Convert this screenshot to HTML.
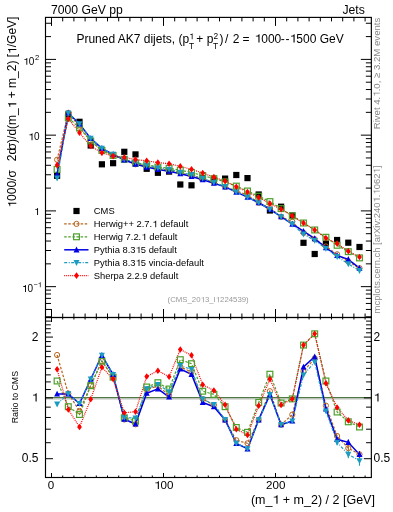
<!DOCTYPE html>
<html><head><meta charset="utf-8"><style>html,body{margin:0;padding:0;background:#fff;width:393px;height:512px;overflow:hidden}</style></head><body><svg width="393" height="512" viewBox="0 0 393 512" style="display:block;will-change:transform;font-family:'Liberation Sans', sans-serif">
<rect width="393" height="512" fill="#fff"/>
<defs><clipPath id="cu"><rect x="45.5" y="17.4" width="325.85" height="300.1"/></clipPath><clipPath id="cr"><rect x="45.5" y="317.5" width="325.85" height="160.0"/></clipPath></defs>
<g clip-path="url(#cu)">
<rect x="54.00" y="172.70" width="6.2" height="6.2" fill="#000"/>
<rect x="65.20" y="111.40" width="6.2" height="6.2" fill="#000"/>
<rect x="76.40" y="118.70" width="6.2" height="6.2" fill="#000"/>
<rect x="87.60" y="142.40" width="6.2" height="6.2" fill="#000"/>
<rect x="98.80" y="161.20" width="6.2" height="6.2" fill="#000"/>
<rect x="110.00" y="160.10" width="6.2" height="6.2" fill="#000"/>
<rect x="121.20" y="148.70" width="6.2" height="6.2" fill="#000"/>
<rect x="132.40" y="151.30" width="6.2" height="6.2" fill="#000"/>
<rect x="143.60" y="165.70" width="6.2" height="6.2" fill="#000"/>
<rect x="154.80" y="169.70" width="6.2" height="6.2" fill="#000"/>
<rect x="166.00" y="168.50" width="6.2" height="6.2" fill="#000"/>
<rect x="177.20" y="181.40" width="6.2" height="6.2" fill="#000"/>
<rect x="188.40" y="182.20" width="6.2" height="6.2" fill="#000"/>
<rect x="199.60" y="174.90" width="6.2" height="6.2" fill="#000"/>
<rect x="210.80" y="176.80" width="6.2" height="6.2" fill="#000"/>
<rect x="222.00" y="175.50" width="6.2" height="6.2" fill="#000"/>
<rect x="233.20" y="171.90" width="6.2" height="6.2" fill="#000"/>
<rect x="244.40" y="175.00" width="6.2" height="6.2" fill="#000"/>
<rect x="255.60" y="191.40" width="6.2" height="6.2" fill="#000"/>
<rect x="266.80" y="207.40" width="6.2" height="6.2" fill="#000"/>
<rect x="278.00" y="203.60" width="6.2" height="6.2" fill="#000"/>
<rect x="289.20" y="212.40" width="6.2" height="6.2" fill="#000"/>
<rect x="300.40" y="239.70" width="6.2" height="6.2" fill="#000"/>
<rect x="311.60" y="250.90" width="6.2" height="6.2" fill="#000"/>
<rect x="322.80" y="240.50" width="6.2" height="6.2" fill="#000"/>
<rect x="334.00" y="236.90" width="6.2" height="6.2" fill="#000"/>
<rect x="345.20" y="239.60" width="6.2" height="6.2" fill="#000"/>
<rect x="356.40" y="243.90" width="6.2" height="6.2" fill="#000"/>
<polyline points="57.10,159.71 68.30,112.85 79.50,126.71 90.70,140.85 101.90,150.54 113.10,155.36 124.30,159.90 135.50,164.30 146.70,165.65 157.90,168.34 169.10,170.62 180.30,172.91 191.50,175.59 202.70,178.45 213.90,182.56 225.10,186.89 236.30,190.86 247.50,195.12 258.70,202.75 269.90,207.99 281.10,216.75 292.30,221.76 303.50,232.86 314.70,239.19 325.90,246.49 337.10,254.29 348.30,261.52 359.50,268.19" fill="none" stroke="#b5651d" stroke-width="1.2" stroke-dasharray="2.5,1.6"/>
<polyline points="57.10,169.46 68.30,117.80 79.50,128.03 90.70,140.93 101.90,150.46 113.10,155.44 124.30,159.26 135.50,163.06 146.70,164.71 157.90,167.10 169.10,168.26 180.30,170.18 191.50,172.48 202.70,175.49 213.90,178.59 225.10,181.90 236.30,186.10 247.50,191.00 258.70,196.19 269.90,201.61 281.10,208.61 292.30,215.88 303.50,223.00 314.70,229.96 325.90,237.26 337.10,245.29 348.30,251.66 359.50,257.91" fill="none" stroke="#4ca02c" stroke-width="1.2" stroke-dasharray="2.5,1.6"/>
<polyline points="57.10,174.34 68.30,113.00 79.50,123.90 90.70,138.49 101.90,148.33 113.10,154.43 124.30,159.79 135.50,164.19 146.70,167.04 157.90,169.39 169.10,171.26 180.30,173.66 191.50,176.45 202.70,179.69 213.90,183.20 225.10,186.89 236.30,192.10 247.50,197.19 258.70,202.75 269.90,209.26 281.10,216.75 292.30,224.16 303.50,231.21 314.70,238.59 325.90,247.76 337.10,255.53 348.30,259.35 359.50,268.19" fill="none" stroke="#0000e6" stroke-width="1.5" />
<polyline points="57.10,178.13 68.30,113.00 79.50,123.90 90.70,138.41 101.90,148.33 113.10,154.43 124.30,159.15 135.50,161.98 146.70,165.39 157.90,167.78 169.10,169.31 180.30,172.39 191.50,174.65 202.70,178.45 213.90,182.38 225.10,186.70 236.30,192.03 247.50,197.19 258.70,202.75 269.90,209.26 281.10,216.75 292.30,224.16 303.50,234.21 314.70,240.54 325.90,248.51 337.10,256.65 348.30,263.89 359.50,270.59" fill="none" stroke="#1a9cc2" stroke-width="1.2" stroke-dasharray="3,1.5,1,1.5"/>
<polyline points="57.10,165.08 68.30,118.85 79.50,132.71 90.70,146.03 101.90,152.83 113.10,156.11 124.30,157.39 135.50,159.58 146.70,160.78 157.90,162.60 169.10,163.69 180.30,166.35 191.50,169.33 202.70,173.05 213.90,177.12 225.10,181.15 236.30,186.74 247.50,192.01 258.70,197.46 269.90,203.45 281.10,209.32 292.30,215.88 303.50,223.00 314.70,229.96 325.90,238.12 337.10,243.60 348.30,251.14 359.50,257.05" fill="none" stroke="#ff0000" stroke-width="1.2" stroke-dasharray="1,1"/>
<circle cx="57.10" cy="159.71" r="2.6" fill="none" stroke="#b5651d" stroke-width="1.0"/>
<circle cx="68.30" cy="112.85" r="2.6" fill="none" stroke="#b5651d" stroke-width="1.0"/>
<circle cx="79.50" cy="126.71" r="2.6" fill="none" stroke="#b5651d" stroke-width="1.0"/>
<circle cx="90.70" cy="140.85" r="2.6" fill="none" stroke="#b5651d" stroke-width="1.0"/>
<circle cx="101.90" cy="150.54" r="2.6" fill="none" stroke="#b5651d" stroke-width="1.0"/>
<circle cx="113.10" cy="155.36" r="2.6" fill="none" stroke="#b5651d" stroke-width="1.0"/>
<circle cx="124.30" cy="159.90" r="2.6" fill="none" stroke="#b5651d" stroke-width="1.0"/>
<circle cx="135.50" cy="164.30" r="2.6" fill="none" stroke="#b5651d" stroke-width="1.0"/>
<circle cx="146.70" cy="165.65" r="2.6" fill="none" stroke="#b5651d" stroke-width="1.0"/>
<circle cx="157.90" cy="168.34" r="2.6" fill="none" stroke="#b5651d" stroke-width="1.0"/>
<circle cx="169.10" cy="170.62" r="2.6" fill="none" stroke="#b5651d" stroke-width="1.0"/>
<circle cx="180.30" cy="172.91" r="2.6" fill="none" stroke="#b5651d" stroke-width="1.0"/>
<circle cx="191.50" cy="175.59" r="2.6" fill="none" stroke="#b5651d" stroke-width="1.0"/>
<circle cx="202.70" cy="178.45" r="2.6" fill="none" stroke="#b5651d" stroke-width="1.0"/>
<circle cx="213.90" cy="182.56" r="2.6" fill="none" stroke="#b5651d" stroke-width="1.0"/>
<circle cx="225.10" cy="186.89" r="2.6" fill="none" stroke="#b5651d" stroke-width="1.0"/>
<circle cx="236.30" cy="190.86" r="2.6" fill="none" stroke="#b5651d" stroke-width="1.0"/>
<circle cx="247.50" cy="195.12" r="2.6" fill="none" stroke="#b5651d" stroke-width="1.0"/>
<circle cx="258.70" cy="202.75" r="2.6" fill="none" stroke="#b5651d" stroke-width="1.0"/>
<circle cx="269.90" cy="207.99" r="2.6" fill="none" stroke="#b5651d" stroke-width="1.0"/>
<circle cx="281.10" cy="216.75" r="2.6" fill="none" stroke="#b5651d" stroke-width="1.0"/>
<circle cx="292.30" cy="221.76" r="2.6" fill="none" stroke="#b5651d" stroke-width="1.0"/>
<circle cx="303.50" cy="232.86" r="2.6" fill="none" stroke="#b5651d" stroke-width="1.0"/>
<circle cx="314.70" cy="239.19" r="2.6" fill="none" stroke="#b5651d" stroke-width="1.0"/>
<circle cx="325.90" cy="246.49" r="2.6" fill="none" stroke="#b5651d" stroke-width="1.0"/>
<circle cx="337.10" cy="254.29" r="2.6" fill="none" stroke="#b5651d" stroke-width="1.0"/>
<circle cx="348.30" cy="261.52" r="2.6" fill="none" stroke="#b5651d" stroke-width="1.0"/>
<circle cx="359.50" cy="268.19" r="2.6" fill="none" stroke="#b5651d" stroke-width="1.0"/>
<rect x="54.20" y="166.56" width="5.8" height="5.8" fill="none" stroke="#4ca02c" stroke-width="1.2"/>
<rect x="65.40" y="114.90" width="5.8" height="5.8" fill="none" stroke="#4ca02c" stroke-width="1.2"/>
<rect x="76.60" y="125.12" width="5.8" height="5.8" fill="none" stroke="#4ca02c" stroke-width="1.2"/>
<rect x="87.80" y="138.03" width="5.8" height="5.8" fill="none" stroke="#4ca02c" stroke-width="1.2"/>
<rect x="99.00" y="147.56" width="5.8" height="5.8" fill="none" stroke="#4ca02c" stroke-width="1.2"/>
<rect x="110.20" y="152.54" width="5.8" height="5.8" fill="none" stroke="#4ca02c" stroke-width="1.2"/>
<rect x="121.40" y="156.36" width="5.8" height="5.8" fill="none" stroke="#4ca02c" stroke-width="1.2"/>
<rect x="132.60" y="160.16" width="5.8" height="5.8" fill="none" stroke="#4ca02c" stroke-width="1.2"/>
<rect x="143.80" y="161.81" width="5.8" height="5.8" fill="none" stroke="#4ca02c" stroke-width="1.2"/>
<rect x="155.00" y="164.20" width="5.8" height="5.8" fill="none" stroke="#4ca02c" stroke-width="1.2"/>
<rect x="166.20" y="165.36" width="5.8" height="5.8" fill="none" stroke="#4ca02c" stroke-width="1.2"/>
<rect x="177.40" y="167.28" width="5.8" height="5.8" fill="none" stroke="#4ca02c" stroke-width="1.2"/>
<rect x="188.60" y="169.58" width="5.8" height="5.8" fill="none" stroke="#4ca02c" stroke-width="1.2"/>
<rect x="199.80" y="172.59" width="5.8" height="5.8" fill="none" stroke="#4ca02c" stroke-width="1.2"/>
<rect x="211.00" y="175.69" width="5.8" height="5.8" fill="none" stroke="#4ca02c" stroke-width="1.2"/>
<rect x="222.20" y="179.00" width="5.8" height="5.8" fill="none" stroke="#4ca02c" stroke-width="1.2"/>
<rect x="233.40" y="183.20" width="5.8" height="5.8" fill="none" stroke="#4ca02c" stroke-width="1.2"/>
<rect x="244.60" y="188.10" width="5.8" height="5.8" fill="none" stroke="#4ca02c" stroke-width="1.2"/>
<rect x="255.80" y="193.29" width="5.8" height="5.8" fill="none" stroke="#4ca02c" stroke-width="1.2"/>
<rect x="267.00" y="198.71" width="5.8" height="5.8" fill="none" stroke="#4ca02c" stroke-width="1.2"/>
<rect x="278.20" y="205.71" width="5.8" height="5.8" fill="none" stroke="#4ca02c" stroke-width="1.2"/>
<rect x="289.40" y="212.97" width="5.8" height="5.8" fill="none" stroke="#4ca02c" stroke-width="1.2"/>
<rect x="300.60" y="220.10" width="5.8" height="5.8" fill="none" stroke="#4ca02c" stroke-width="1.2"/>
<rect x="311.80" y="227.06" width="5.8" height="5.8" fill="none" stroke="#4ca02c" stroke-width="1.2"/>
<rect x="323.00" y="234.36" width="5.8" height="5.8" fill="none" stroke="#4ca02c" stroke-width="1.2"/>
<rect x="334.20" y="242.39" width="5.8" height="5.8" fill="none" stroke="#4ca02c" stroke-width="1.2"/>
<rect x="345.40" y="248.76" width="5.8" height="5.8" fill="none" stroke="#4ca02c" stroke-width="1.2"/>
<rect x="356.60" y="255.01" width="5.8" height="5.8" fill="none" stroke="#4ca02c" stroke-width="1.2"/>
<path d="M57.10,171.04 L60.10,176.94 L54.10,176.94Z" fill="#0000e6"/>
<path d="M68.30,109.70 L71.30,115.60 L65.30,115.60Z" fill="#0000e6"/>
<path d="M79.50,120.60 L82.50,126.50 L76.50,126.50Z" fill="#0000e6"/>
<path d="M90.70,135.19 L93.70,141.09 L87.70,141.09Z" fill="#0000e6"/>
<path d="M101.90,145.03 L104.90,150.93 L98.90,150.93Z" fill="#0000e6"/>
<path d="M113.10,151.12 L116.10,157.03 L110.10,157.03Z" fill="#0000e6"/>
<path d="M124.30,156.49 L127.30,162.39 L121.30,162.39Z" fill="#0000e6"/>
<path d="M135.50,160.89 L138.50,166.79 L132.50,166.79Z" fill="#0000e6"/>
<path d="M146.70,163.74 L149.70,169.64 L143.70,169.64Z" fill="#0000e6"/>
<path d="M157.90,166.09 L160.90,171.99 L154.90,171.99Z" fill="#0000e6"/>
<path d="M169.10,167.96 L172.10,173.86 L166.10,173.86Z" fill="#0000e6"/>
<path d="M180.30,170.36 L183.30,176.26 L177.30,176.26Z" fill="#0000e6"/>
<path d="M191.50,173.15 L194.50,179.05 L188.50,179.05Z" fill="#0000e6"/>
<path d="M202.70,176.39 L205.70,182.29 L199.70,182.29Z" fill="#0000e6"/>
<path d="M213.90,179.90 L216.90,185.80 L210.90,185.80Z" fill="#0000e6"/>
<path d="M225.10,183.59 L228.10,189.49 L222.10,189.49Z" fill="#0000e6"/>
<path d="M236.30,188.80 L239.30,194.70 L233.30,194.70Z" fill="#0000e6"/>
<path d="M247.50,193.89 L250.50,199.79 L244.50,199.79Z" fill="#0000e6"/>
<path d="M258.70,199.45 L261.70,205.35 L255.70,205.35Z" fill="#0000e6"/>
<path d="M269.90,205.96 L272.90,211.86 L266.90,211.86Z" fill="#0000e6"/>
<path d="M281.10,213.45 L284.10,219.35 L278.10,219.35Z" fill="#0000e6"/>
<path d="M292.30,220.86 L295.30,226.76 L289.30,226.76Z" fill="#0000e6"/>
<path d="M303.50,227.91 L306.50,233.81 L300.50,233.81Z" fill="#0000e6"/>
<path d="M314.70,235.29 L317.70,241.19 L311.70,241.19Z" fill="#0000e6"/>
<path d="M325.90,244.46 L328.90,250.36 L322.90,250.36Z" fill="#0000e6"/>
<path d="M337.10,252.22 L340.10,258.12 L334.10,258.12Z" fill="#0000e6"/>
<path d="M348.30,256.05 L351.30,261.95 L345.30,261.95Z" fill="#0000e6"/>
<path d="M359.50,264.89 L362.50,270.79 L356.50,270.79Z" fill="#0000e6"/>
<path d="M57.10,181.43 L60.10,175.53 L54.10,175.53Z" fill="#1a9cc2"/>
<path d="M68.30,116.30 L71.30,110.40 L65.30,110.40Z" fill="#1a9cc2"/>
<path d="M79.50,127.20 L82.50,121.30 L76.50,121.30Z" fill="#1a9cc2"/>
<path d="M90.70,141.71 L93.70,135.81 L87.70,135.81Z" fill="#1a9cc2"/>
<path d="M101.90,151.63 L104.90,145.73 L98.90,145.73Z" fill="#1a9cc2"/>
<path d="M113.10,157.73 L116.10,151.83 L110.10,151.83Z" fill="#1a9cc2"/>
<path d="M124.30,162.45 L127.30,156.55 L121.30,156.55Z" fill="#1a9cc2"/>
<path d="M135.50,165.28 L138.50,159.38 L132.50,159.38Z" fill="#1a9cc2"/>
<path d="M146.70,168.69 L149.70,162.79 L143.70,162.79Z" fill="#1a9cc2"/>
<path d="M157.90,171.08 L160.90,165.18 L154.90,165.18Z" fill="#1a9cc2"/>
<path d="M169.10,172.61 L172.10,166.71 L166.10,166.71Z" fill="#1a9cc2"/>
<path d="M180.30,175.69 L183.30,169.79 L177.30,169.79Z" fill="#1a9cc2"/>
<path d="M191.50,177.95 L194.50,172.05 L188.50,172.05Z" fill="#1a9cc2"/>
<path d="M202.70,181.75 L205.70,175.85 L199.70,175.85Z" fill="#1a9cc2"/>
<path d="M213.90,185.68 L216.90,179.78 L210.90,179.78Z" fill="#1a9cc2"/>
<path d="M225.10,190.00 L228.10,184.10 L222.10,184.10Z" fill="#1a9cc2"/>
<path d="M236.30,195.33 L239.30,189.43 L233.30,189.43Z" fill="#1a9cc2"/>
<path d="M247.50,200.49 L250.50,194.59 L244.50,194.59Z" fill="#1a9cc2"/>
<path d="M258.70,206.05 L261.70,200.15 L255.70,200.15Z" fill="#1a9cc2"/>
<path d="M269.90,212.56 L272.90,206.66 L266.90,206.66Z" fill="#1a9cc2"/>
<path d="M281.10,220.05 L284.10,214.15 L278.10,214.15Z" fill="#1a9cc2"/>
<path d="M292.30,227.46 L295.30,221.56 L289.30,221.56Z" fill="#1a9cc2"/>
<path d="M303.50,237.51 L306.50,231.61 L300.50,231.61Z" fill="#1a9cc2"/>
<path d="M314.70,243.84 L317.70,237.94 L311.70,237.94Z" fill="#1a9cc2"/>
<path d="M325.90,251.81 L328.90,245.91 L322.90,245.91Z" fill="#1a9cc2"/>
<path d="M337.10,259.95 L340.10,254.05 L334.10,254.05Z" fill="#1a9cc2"/>
<path d="M348.30,267.19 L351.30,261.29 L345.30,261.29Z" fill="#1a9cc2"/>
<path d="M359.50,273.89 L362.50,267.99 L356.50,267.99Z" fill="#1a9cc2"/>
<path d="M57.10,161.78 L59.50,165.08 L57.10,168.38 L54.70,165.08Z" fill="#ff0000"/>
<path d="M68.30,115.55 L70.70,118.85 L68.30,122.15 L65.90,118.85Z" fill="#ff0000"/>
<path d="M79.50,129.41 L81.90,132.71 L79.50,136.01 L77.10,132.71Z" fill="#ff0000"/>
<path d="M90.70,142.72 L93.10,146.03 L90.70,149.33 L88.30,146.03Z" fill="#ff0000"/>
<path d="M101.90,149.53 L104.30,152.83 L101.90,156.13 L99.50,152.83Z" fill="#ff0000"/>
<path d="M113.10,152.81 L115.50,156.11 L113.10,159.41 L110.70,156.11Z" fill="#ff0000"/>
<path d="M124.30,154.09 L126.70,157.39 L124.30,160.69 L121.90,157.39Z" fill="#ff0000"/>
<path d="M135.50,156.28 L137.90,159.58 L135.50,162.88 L133.10,159.58Z" fill="#ff0000"/>
<path d="M146.70,157.48 L149.10,160.78 L146.70,164.08 L144.30,160.78Z" fill="#ff0000"/>
<path d="M157.90,159.30 L160.30,162.60 L157.90,165.90 L155.50,162.60Z" fill="#ff0000"/>
<path d="M169.10,160.39 L171.50,163.69 L169.10,166.99 L166.70,163.69Z" fill="#ff0000"/>
<path d="M180.30,163.05 L182.70,166.35 L180.30,169.65 L177.90,166.35Z" fill="#ff0000"/>
<path d="M191.50,166.03 L193.90,169.33 L191.50,172.63 L189.10,169.33Z" fill="#ff0000"/>
<path d="M202.70,169.75 L205.10,173.05 L202.70,176.35 L200.30,173.05Z" fill="#ff0000"/>
<path d="M213.90,173.82 L216.30,177.12 L213.90,180.43 L211.50,177.12Z" fill="#ff0000"/>
<path d="M225.10,177.85 L227.50,181.15 L225.10,184.45 L222.70,181.15Z" fill="#ff0000"/>
<path d="M236.30,183.44 L238.70,186.74 L236.30,190.04 L233.90,186.74Z" fill="#ff0000"/>
<path d="M247.50,188.71 L249.90,192.01 L247.50,195.31 L245.10,192.01Z" fill="#ff0000"/>
<path d="M258.70,194.16 L261.10,197.46 L258.70,200.76 L256.30,197.46Z" fill="#ff0000"/>
<path d="M269.90,200.15 L272.30,203.45 L269.90,206.75 L267.50,203.45Z" fill="#ff0000"/>
<path d="M281.10,206.02 L283.50,209.32 L281.10,212.62 L278.70,209.32Z" fill="#ff0000"/>
<path d="M292.30,212.57 L294.70,215.88 L292.30,219.18 L289.90,215.88Z" fill="#ff0000"/>
<path d="M303.50,219.70 L305.90,223.00 L303.50,226.30 L301.10,223.00Z" fill="#ff0000"/>
<path d="M314.70,226.66 L317.10,229.96 L314.70,233.26 L312.30,229.96Z" fill="#ff0000"/>
<path d="M325.90,234.82 L328.30,238.12 L325.90,241.43 L323.50,238.12Z" fill="#ff0000"/>
<path d="M337.10,240.30 L339.50,243.60 L337.10,246.90 L334.70,243.60Z" fill="#ff0000"/>
<path d="M348.30,247.84 L350.70,251.14 L348.30,254.44 L345.90,251.14Z" fill="#ff0000"/>
<path d="M359.50,253.75 L361.90,257.05 L359.50,260.35 L357.10,257.05Z" fill="#ff0000"/>
</g>
<g clip-path="url(#cr)">
<line x1="45.5" y1="399.00" x2="371.35" y2="399.00" stroke="#bdbdbd" stroke-width="1"/>
<line x1="45.5" y1="397.70" x2="371.35" y2="397.70" stroke="#4f7a45" stroke-width="1.3"/>
<polyline points="57.10,355.00 68.30,393.50 79.50,411.00 90.70,385.50 101.90,361.20 113.10,377.00 124.30,419.50 135.50,424.30 146.70,389.50 157.90,386.00 169.10,395.30 180.30,367.00 191.50,372.00 202.70,399.10 213.90,405.00 225.10,420.00 236.30,440.20 247.50,443.30 258.70,419.90 269.90,391.20 281.10,424.70 292.30,414.60 303.50,371.40 314.70,358.40 325.90,405.60 337.10,436.00 348.30,448.10 359.50,454.40" fill="none" stroke="#b5651d" stroke-width="1.2" stroke-dasharray="2.5,1.6"/>
<polyline points="57.10,381.00 68.30,406.70 79.50,414.50 90.70,385.70 101.90,361.00 113.10,377.20 124.30,417.80 135.50,421.00 146.70,387.00 157.90,382.70 169.10,389.00 180.30,359.70 191.50,363.70 202.70,391.20 213.90,394.40 225.10,406.70 236.30,427.50 247.50,432.30 258.70,402.40 269.90,374.20 281.10,403.00 292.30,398.90 303.50,345.10 314.70,333.80 325.90,381.00 337.10,412.00 348.30,421.80 359.50,427.00" fill="none" stroke="#4ca02c" stroke-width="1.2" stroke-dasharray="2.5,1.6"/>
<polyline points="57.10,394.00 68.30,393.90 79.50,403.50 90.70,379.20 101.90,355.30 113.10,374.50 124.30,419.20 135.50,424.00 146.70,393.20 157.90,388.80 169.10,397.00 180.30,369.00 191.50,374.30 202.70,402.40 213.90,406.70 225.10,420.00 236.30,443.50 247.50,448.80 258.70,419.90 269.90,394.60 281.10,424.70 292.30,421.00 303.50,367.00 314.70,356.80 325.90,409.00 337.10,439.30 348.30,442.30 359.50,454.40" fill="none" stroke="#0000e6" stroke-width="1.5" />
<polyline points="57.10,404.10 68.30,393.90 79.50,403.50 90.70,379.00 101.90,355.30 113.10,374.50 124.30,417.50 135.50,418.10 146.70,388.80 157.90,384.50 169.10,391.80 180.30,365.60 191.50,369.50 202.70,399.10 213.90,404.50 225.10,419.50 236.30,443.30 247.50,448.80 258.70,419.90 269.90,394.60 281.10,424.70 292.30,421.00 303.50,375.00 314.70,362.00 325.90,411.00 337.10,442.30 348.30,454.40 359.50,460.80" fill="none" stroke="#1a9cc2" stroke-width="1.2" stroke-dasharray="3,1.5,1,1.5"/>
<polyline points="57.10,369.30 68.30,409.50 79.50,427.00 90.70,399.30 101.90,367.30 113.10,379.00 124.30,412.80 135.50,411.70 146.70,376.50 157.90,370.70 169.10,376.80 180.30,349.50 191.50,355.30 202.70,384.70 213.90,390.50 225.10,404.70 236.30,429.20 247.50,435.00 258.70,405.80 269.90,379.10 281.10,404.90 292.30,398.90 303.50,345.10 314.70,333.80 325.90,383.30 337.10,407.50 348.30,420.40 359.50,424.70" fill="none" stroke="#ff0000" stroke-width="1.2" stroke-dasharray="1,1"/>
<line x1="325.90" y1="409.00" x2="325.90" y2="413.00" stroke="#1a9cc2" stroke-width="1.1"/>
<line x1="337.10" y1="439.30" x2="337.10" y2="445.30" stroke="#1a9cc2" stroke-width="1.1"/>
<line x1="348.30" y1="450.60" x2="348.30" y2="458.20" stroke="#1a9cc2" stroke-width="1.1"/>
<line x1="359.50" y1="455.80" x2="359.50" y2="465.80" stroke="#1a9cc2" stroke-width="1.1"/>
<line x1="348.30" y1="439.80" x2="348.30" y2="444.80" stroke="#0000e6" stroke-width="1.1"/>
<line x1="359.50" y1="450.90" x2="359.50" y2="457.90" stroke="#0000e6" stroke-width="1.1"/>
<line x1="348.30" y1="445.60" x2="348.30" y2="450.60" stroke="#b5651d" stroke-width="1.1"/>
<line x1="359.50" y1="451.40" x2="359.50" y2="457.40" stroke="#b5651d" stroke-width="1.1"/>
<circle cx="57.10" cy="355.00" r="2.6" fill="none" stroke="#b5651d" stroke-width="1.0"/>
<circle cx="68.30" cy="393.50" r="2.6" fill="none" stroke="#b5651d" stroke-width="1.0"/>
<circle cx="79.50" cy="411.00" r="2.6" fill="none" stroke="#b5651d" stroke-width="1.0"/>
<circle cx="90.70" cy="385.50" r="2.6" fill="none" stroke="#b5651d" stroke-width="1.0"/>
<circle cx="101.90" cy="361.20" r="2.6" fill="none" stroke="#b5651d" stroke-width="1.0"/>
<circle cx="113.10" cy="377.00" r="2.6" fill="none" stroke="#b5651d" stroke-width="1.0"/>
<circle cx="124.30" cy="419.50" r="2.6" fill="none" stroke="#b5651d" stroke-width="1.0"/>
<circle cx="135.50" cy="424.30" r="2.6" fill="none" stroke="#b5651d" stroke-width="1.0"/>
<circle cx="146.70" cy="389.50" r="2.6" fill="none" stroke="#b5651d" stroke-width="1.0"/>
<circle cx="157.90" cy="386.00" r="2.6" fill="none" stroke="#b5651d" stroke-width="1.0"/>
<circle cx="169.10" cy="395.30" r="2.6" fill="none" stroke="#b5651d" stroke-width="1.0"/>
<circle cx="180.30" cy="367.00" r="2.6" fill="none" stroke="#b5651d" stroke-width="1.0"/>
<circle cx="191.50" cy="372.00" r="2.6" fill="none" stroke="#b5651d" stroke-width="1.0"/>
<circle cx="202.70" cy="399.10" r="2.6" fill="none" stroke="#b5651d" stroke-width="1.0"/>
<circle cx="213.90" cy="405.00" r="2.6" fill="none" stroke="#b5651d" stroke-width="1.0"/>
<circle cx="225.10" cy="420.00" r="2.6" fill="none" stroke="#b5651d" stroke-width="1.0"/>
<circle cx="236.30" cy="440.20" r="2.6" fill="none" stroke="#b5651d" stroke-width="1.0"/>
<circle cx="247.50" cy="443.30" r="2.6" fill="none" stroke="#b5651d" stroke-width="1.0"/>
<circle cx="258.70" cy="419.90" r="2.6" fill="none" stroke="#b5651d" stroke-width="1.0"/>
<circle cx="269.90" cy="391.20" r="2.6" fill="none" stroke="#b5651d" stroke-width="1.0"/>
<circle cx="281.10" cy="424.70" r="2.6" fill="none" stroke="#b5651d" stroke-width="1.0"/>
<circle cx="292.30" cy="414.60" r="2.6" fill="none" stroke="#b5651d" stroke-width="1.0"/>
<circle cx="303.50" cy="371.40" r="2.6" fill="none" stroke="#b5651d" stroke-width="1.0"/>
<circle cx="314.70" cy="358.40" r="2.6" fill="none" stroke="#b5651d" stroke-width="1.0"/>
<circle cx="325.90" cy="405.60" r="2.6" fill="none" stroke="#b5651d" stroke-width="1.0"/>
<circle cx="337.10" cy="436.00" r="2.6" fill="none" stroke="#b5651d" stroke-width="1.0"/>
<circle cx="348.30" cy="448.10" r="2.6" fill="none" stroke="#b5651d" stroke-width="1.0"/>
<circle cx="359.50" cy="454.40" r="2.6" fill="none" stroke="#b5651d" stroke-width="1.0"/>
<rect x="54.20" y="378.10" width="5.8" height="5.8" fill="none" stroke="#4ca02c" stroke-width="1.2"/>
<rect x="65.40" y="403.80" width="5.8" height="5.8" fill="none" stroke="#4ca02c" stroke-width="1.2"/>
<rect x="76.60" y="411.60" width="5.8" height="5.8" fill="none" stroke="#4ca02c" stroke-width="1.2"/>
<rect x="87.80" y="382.80" width="5.8" height="5.8" fill="none" stroke="#4ca02c" stroke-width="1.2"/>
<rect x="99.00" y="358.10" width="5.8" height="5.8" fill="none" stroke="#4ca02c" stroke-width="1.2"/>
<rect x="110.20" y="374.30" width="5.8" height="5.8" fill="none" stroke="#4ca02c" stroke-width="1.2"/>
<rect x="121.40" y="414.90" width="5.8" height="5.8" fill="none" stroke="#4ca02c" stroke-width="1.2"/>
<rect x="132.60" y="418.10" width="5.8" height="5.8" fill="none" stroke="#4ca02c" stroke-width="1.2"/>
<rect x="143.80" y="384.10" width="5.8" height="5.8" fill="none" stroke="#4ca02c" stroke-width="1.2"/>
<rect x="155.00" y="379.80" width="5.8" height="5.8" fill="none" stroke="#4ca02c" stroke-width="1.2"/>
<rect x="166.20" y="386.10" width="5.8" height="5.8" fill="none" stroke="#4ca02c" stroke-width="1.2"/>
<rect x="177.40" y="356.80" width="5.8" height="5.8" fill="none" stroke="#4ca02c" stroke-width="1.2"/>
<rect x="188.60" y="360.80" width="5.8" height="5.8" fill="none" stroke="#4ca02c" stroke-width="1.2"/>
<rect x="199.80" y="388.30" width="5.8" height="5.8" fill="none" stroke="#4ca02c" stroke-width="1.2"/>
<rect x="211.00" y="391.50" width="5.8" height="5.8" fill="none" stroke="#4ca02c" stroke-width="1.2"/>
<rect x="222.20" y="403.80" width="5.8" height="5.8" fill="none" stroke="#4ca02c" stroke-width="1.2"/>
<rect x="233.40" y="424.60" width="5.8" height="5.8" fill="none" stroke="#4ca02c" stroke-width="1.2"/>
<rect x="244.60" y="429.40" width="5.8" height="5.8" fill="none" stroke="#4ca02c" stroke-width="1.2"/>
<rect x="255.80" y="399.50" width="5.8" height="5.8" fill="none" stroke="#4ca02c" stroke-width="1.2"/>
<rect x="267.00" y="371.30" width="5.8" height="5.8" fill="none" stroke="#4ca02c" stroke-width="1.2"/>
<rect x="278.20" y="400.10" width="5.8" height="5.8" fill="none" stroke="#4ca02c" stroke-width="1.2"/>
<rect x="289.40" y="396.00" width="5.8" height="5.8" fill="none" stroke="#4ca02c" stroke-width="1.2"/>
<rect x="300.60" y="342.20" width="5.8" height="5.8" fill="none" stroke="#4ca02c" stroke-width="1.2"/>
<rect x="311.80" y="330.90" width="5.8" height="5.8" fill="none" stroke="#4ca02c" stroke-width="1.2"/>
<rect x="323.00" y="378.10" width="5.8" height="5.8" fill="none" stroke="#4ca02c" stroke-width="1.2"/>
<rect x="334.20" y="409.10" width="5.8" height="5.8" fill="none" stroke="#4ca02c" stroke-width="1.2"/>
<rect x="345.40" y="418.90" width="5.8" height="5.8" fill="none" stroke="#4ca02c" stroke-width="1.2"/>
<rect x="356.60" y="424.10" width="5.8" height="5.8" fill="none" stroke="#4ca02c" stroke-width="1.2"/>
<path d="M57.10,390.70 L60.10,396.60 L54.10,396.60Z" fill="#0000e6"/>
<path d="M68.30,390.60 L71.30,396.50 L65.30,396.50Z" fill="#0000e6"/>
<path d="M79.50,400.20 L82.50,406.10 L76.50,406.10Z" fill="#0000e6"/>
<path d="M90.70,375.90 L93.70,381.80 L87.70,381.80Z" fill="#0000e6"/>
<path d="M101.90,352.00 L104.90,357.90 L98.90,357.90Z" fill="#0000e6"/>
<path d="M113.10,371.20 L116.10,377.10 L110.10,377.10Z" fill="#0000e6"/>
<path d="M124.30,415.90 L127.30,421.80 L121.30,421.80Z" fill="#0000e6"/>
<path d="M135.50,420.70 L138.50,426.60 L132.50,426.60Z" fill="#0000e6"/>
<path d="M146.70,389.90 L149.70,395.80 L143.70,395.80Z" fill="#0000e6"/>
<path d="M157.90,385.50 L160.90,391.40 L154.90,391.40Z" fill="#0000e6"/>
<path d="M169.10,393.70 L172.10,399.60 L166.10,399.60Z" fill="#0000e6"/>
<path d="M180.30,365.70 L183.30,371.60 L177.30,371.60Z" fill="#0000e6"/>
<path d="M191.50,371.00 L194.50,376.90 L188.50,376.90Z" fill="#0000e6"/>
<path d="M202.70,399.10 L205.70,405.00 L199.70,405.00Z" fill="#0000e6"/>
<path d="M213.90,403.40 L216.90,409.30 L210.90,409.30Z" fill="#0000e6"/>
<path d="M225.10,416.70 L228.10,422.60 L222.10,422.60Z" fill="#0000e6"/>
<path d="M236.30,440.20 L239.30,446.10 L233.30,446.10Z" fill="#0000e6"/>
<path d="M247.50,445.50 L250.50,451.40 L244.50,451.40Z" fill="#0000e6"/>
<path d="M258.70,416.60 L261.70,422.50 L255.70,422.50Z" fill="#0000e6"/>
<path d="M269.90,391.30 L272.90,397.20 L266.90,397.20Z" fill="#0000e6"/>
<path d="M281.10,421.40 L284.10,427.30 L278.10,427.30Z" fill="#0000e6"/>
<path d="M292.30,417.70 L295.30,423.60 L289.30,423.60Z" fill="#0000e6"/>
<path d="M303.50,363.70 L306.50,369.60 L300.50,369.60Z" fill="#0000e6"/>
<path d="M314.70,353.50 L317.70,359.40 L311.70,359.40Z" fill="#0000e6"/>
<path d="M325.90,405.70 L328.90,411.60 L322.90,411.60Z" fill="#0000e6"/>
<path d="M337.10,436.00 L340.10,441.90 L334.10,441.90Z" fill="#0000e6"/>
<path d="M348.30,439.00 L351.30,444.90 L345.30,444.90Z" fill="#0000e6"/>
<path d="M359.50,451.10 L362.50,457.00 L356.50,457.00Z" fill="#0000e6"/>
<path d="M57.10,407.40 L60.10,401.50 L54.10,401.50Z" fill="#1a9cc2"/>
<path d="M68.30,397.20 L71.30,391.30 L65.30,391.30Z" fill="#1a9cc2"/>
<path d="M79.50,406.80 L82.50,400.90 L76.50,400.90Z" fill="#1a9cc2"/>
<path d="M90.70,382.30 L93.70,376.40 L87.70,376.40Z" fill="#1a9cc2"/>
<path d="M101.90,358.60 L104.90,352.70 L98.90,352.70Z" fill="#1a9cc2"/>
<path d="M113.10,377.80 L116.10,371.90 L110.10,371.90Z" fill="#1a9cc2"/>
<path d="M124.30,420.80 L127.30,414.90 L121.30,414.90Z" fill="#1a9cc2"/>
<path d="M135.50,421.40 L138.50,415.50 L132.50,415.50Z" fill="#1a9cc2"/>
<path d="M146.70,392.10 L149.70,386.20 L143.70,386.20Z" fill="#1a9cc2"/>
<path d="M157.90,387.80 L160.90,381.90 L154.90,381.90Z" fill="#1a9cc2"/>
<path d="M169.10,395.10 L172.10,389.20 L166.10,389.20Z" fill="#1a9cc2"/>
<path d="M180.30,368.90 L183.30,363.00 L177.30,363.00Z" fill="#1a9cc2"/>
<path d="M191.50,372.80 L194.50,366.90 L188.50,366.90Z" fill="#1a9cc2"/>
<path d="M202.70,402.40 L205.70,396.50 L199.70,396.50Z" fill="#1a9cc2"/>
<path d="M213.90,407.80 L216.90,401.90 L210.90,401.90Z" fill="#1a9cc2"/>
<path d="M225.10,422.80 L228.10,416.90 L222.10,416.90Z" fill="#1a9cc2"/>
<path d="M236.30,446.60 L239.30,440.70 L233.30,440.70Z" fill="#1a9cc2"/>
<path d="M247.50,452.10 L250.50,446.20 L244.50,446.20Z" fill="#1a9cc2"/>
<path d="M258.70,423.20 L261.70,417.30 L255.70,417.30Z" fill="#1a9cc2"/>
<path d="M269.90,397.90 L272.90,392.00 L266.90,392.00Z" fill="#1a9cc2"/>
<path d="M281.10,428.00 L284.10,422.10 L278.10,422.10Z" fill="#1a9cc2"/>
<path d="M292.30,424.30 L295.30,418.40 L289.30,418.40Z" fill="#1a9cc2"/>
<path d="M303.50,378.30 L306.50,372.40 L300.50,372.40Z" fill="#1a9cc2"/>
<path d="M314.70,365.30 L317.70,359.40 L311.70,359.40Z" fill="#1a9cc2"/>
<path d="M325.90,414.30 L328.90,408.40 L322.90,408.40Z" fill="#1a9cc2"/>
<path d="M337.10,445.60 L340.10,439.70 L334.10,439.70Z" fill="#1a9cc2"/>
<path d="M348.30,457.70 L351.30,451.80 L345.30,451.80Z" fill="#1a9cc2"/>
<path d="M359.50,464.10 L362.50,458.20 L356.50,458.20Z" fill="#1a9cc2"/>
<path d="M57.10,366.00 L59.50,369.30 L57.10,372.60 L54.70,369.30Z" fill="#ff0000"/>
<path d="M68.30,406.20 L70.70,409.50 L68.30,412.80 L65.90,409.50Z" fill="#ff0000"/>
<path d="M79.50,423.70 L81.90,427.00 L79.50,430.30 L77.10,427.00Z" fill="#ff0000"/>
<path d="M90.70,396.00 L93.10,399.30 L90.70,402.60 L88.30,399.30Z" fill="#ff0000"/>
<path d="M101.90,364.00 L104.30,367.30 L101.90,370.60 L99.50,367.30Z" fill="#ff0000"/>
<path d="M113.10,375.70 L115.50,379.00 L113.10,382.30 L110.70,379.00Z" fill="#ff0000"/>
<path d="M124.30,409.50 L126.70,412.80 L124.30,416.10 L121.90,412.80Z" fill="#ff0000"/>
<path d="M135.50,408.40 L137.90,411.70 L135.50,415.00 L133.10,411.70Z" fill="#ff0000"/>
<path d="M146.70,373.20 L149.10,376.50 L146.70,379.80 L144.30,376.50Z" fill="#ff0000"/>
<path d="M157.90,367.40 L160.30,370.70 L157.90,374.00 L155.50,370.70Z" fill="#ff0000"/>
<path d="M169.10,373.50 L171.50,376.80 L169.10,380.10 L166.70,376.80Z" fill="#ff0000"/>
<path d="M180.30,346.20 L182.70,349.50 L180.30,352.80 L177.90,349.50Z" fill="#ff0000"/>
<path d="M191.50,352.00 L193.90,355.30 L191.50,358.60 L189.10,355.30Z" fill="#ff0000"/>
<path d="M202.70,381.40 L205.10,384.70 L202.70,388.00 L200.30,384.70Z" fill="#ff0000"/>
<path d="M213.90,387.20 L216.30,390.50 L213.90,393.80 L211.50,390.50Z" fill="#ff0000"/>
<path d="M225.10,401.40 L227.50,404.70 L225.10,408.00 L222.70,404.70Z" fill="#ff0000"/>
<path d="M236.30,425.90 L238.70,429.20 L236.30,432.50 L233.90,429.20Z" fill="#ff0000"/>
<path d="M247.50,431.70 L249.90,435.00 L247.50,438.30 L245.10,435.00Z" fill="#ff0000"/>
<path d="M258.70,402.50 L261.10,405.80 L258.70,409.10 L256.30,405.80Z" fill="#ff0000"/>
<path d="M269.90,375.80 L272.30,379.10 L269.90,382.40 L267.50,379.10Z" fill="#ff0000"/>
<path d="M281.10,401.60 L283.50,404.90 L281.10,408.20 L278.70,404.90Z" fill="#ff0000"/>
<path d="M292.30,395.60 L294.70,398.90 L292.30,402.20 L289.90,398.90Z" fill="#ff0000"/>
<path d="M303.50,341.80 L305.90,345.10 L303.50,348.40 L301.10,345.10Z" fill="#ff0000"/>
<path d="M314.70,330.50 L317.10,333.80 L314.70,337.10 L312.30,333.80Z" fill="#ff0000"/>
<path d="M325.90,380.00 L328.30,383.30 L325.90,386.60 L323.50,383.30Z" fill="#ff0000"/>
<path d="M337.10,404.20 L339.50,407.50 L337.10,410.80 L334.70,407.50Z" fill="#ff0000"/>
<path d="M348.30,417.10 L350.70,420.40 L348.30,423.70 L345.90,420.40Z" fill="#ff0000"/>
<path d="M359.50,421.40 L361.90,424.70 L359.50,428.00 L357.10,424.70Z" fill="#ff0000"/>
</g>
<line x1="51.50" y1="17.40" x2="51.50" y2="25.90" stroke="#000" stroke-width="1.0"/>
<line x1="51.50" y1="317.50" x2="51.50" y2="309.00" stroke="#000" stroke-width="1.0"/>
<line x1="51.50" y1="317.50" x2="51.50" y2="322.00" stroke="#000" stroke-width="1.0"/>
<line x1="51.50" y1="477.50" x2="51.50" y2="473.00" stroke="#000" stroke-width="1.0"/>
<line x1="62.70" y1="17.40" x2="62.70" y2="21.40" stroke="#000" stroke-width="1.0"/>
<line x1="62.70" y1="317.50" x2="62.70" y2="313.50" stroke="#000" stroke-width="1.0"/>
<line x1="62.70" y1="317.50" x2="62.70" y2="319.50" stroke="#000" stroke-width="1.0"/>
<line x1="62.70" y1="477.50" x2="62.70" y2="475.50" stroke="#000" stroke-width="1.0"/>
<line x1="73.90" y1="17.40" x2="73.90" y2="21.40" stroke="#000" stroke-width="1.0"/>
<line x1="73.90" y1="317.50" x2="73.90" y2="313.50" stroke="#000" stroke-width="1.0"/>
<line x1="73.90" y1="317.50" x2="73.90" y2="319.50" stroke="#000" stroke-width="1.0"/>
<line x1="73.90" y1="477.50" x2="73.90" y2="475.50" stroke="#000" stroke-width="1.0"/>
<line x1="85.10" y1="17.40" x2="85.10" y2="21.40" stroke="#000" stroke-width="1.0"/>
<line x1="85.10" y1="317.50" x2="85.10" y2="313.50" stroke="#000" stroke-width="1.0"/>
<line x1="85.10" y1="317.50" x2="85.10" y2="319.50" stroke="#000" stroke-width="1.0"/>
<line x1="85.10" y1="477.50" x2="85.10" y2="475.50" stroke="#000" stroke-width="1.0"/>
<line x1="96.30" y1="17.40" x2="96.30" y2="21.40" stroke="#000" stroke-width="1.0"/>
<line x1="96.30" y1="317.50" x2="96.30" y2="313.50" stroke="#000" stroke-width="1.0"/>
<line x1="96.30" y1="317.50" x2="96.30" y2="319.50" stroke="#000" stroke-width="1.0"/>
<line x1="96.30" y1="477.50" x2="96.30" y2="475.50" stroke="#000" stroke-width="1.0"/>
<line x1="107.50" y1="17.40" x2="107.50" y2="21.40" stroke="#000" stroke-width="1.0"/>
<line x1="107.50" y1="317.50" x2="107.50" y2="313.50" stroke="#000" stroke-width="1.0"/>
<line x1="107.50" y1="317.50" x2="107.50" y2="319.50" stroke="#000" stroke-width="1.0"/>
<line x1="107.50" y1="477.50" x2="107.50" y2="475.50" stroke="#000" stroke-width="1.0"/>
<line x1="118.70" y1="17.40" x2="118.70" y2="21.40" stroke="#000" stroke-width="1.0"/>
<line x1="118.70" y1="317.50" x2="118.70" y2="313.50" stroke="#000" stroke-width="1.0"/>
<line x1="118.70" y1="317.50" x2="118.70" y2="319.50" stroke="#000" stroke-width="1.0"/>
<line x1="118.70" y1="477.50" x2="118.70" y2="475.50" stroke="#000" stroke-width="1.0"/>
<line x1="129.90" y1="17.40" x2="129.90" y2="21.40" stroke="#000" stroke-width="1.0"/>
<line x1="129.90" y1="317.50" x2="129.90" y2="313.50" stroke="#000" stroke-width="1.0"/>
<line x1="129.90" y1="317.50" x2="129.90" y2="319.50" stroke="#000" stroke-width="1.0"/>
<line x1="129.90" y1="477.50" x2="129.90" y2="475.50" stroke="#000" stroke-width="1.0"/>
<line x1="141.10" y1="17.40" x2="141.10" y2="21.40" stroke="#000" stroke-width="1.0"/>
<line x1="141.10" y1="317.50" x2="141.10" y2="313.50" stroke="#000" stroke-width="1.0"/>
<line x1="141.10" y1="317.50" x2="141.10" y2="319.50" stroke="#000" stroke-width="1.0"/>
<line x1="141.10" y1="477.50" x2="141.10" y2="475.50" stroke="#000" stroke-width="1.0"/>
<line x1="152.30" y1="17.40" x2="152.30" y2="21.40" stroke="#000" stroke-width="1.0"/>
<line x1="152.30" y1="317.50" x2="152.30" y2="313.50" stroke="#000" stroke-width="1.0"/>
<line x1="152.30" y1="317.50" x2="152.30" y2="319.50" stroke="#000" stroke-width="1.0"/>
<line x1="152.30" y1="477.50" x2="152.30" y2="475.50" stroke="#000" stroke-width="1.0"/>
<line x1="163.50" y1="17.40" x2="163.50" y2="25.90" stroke="#000" stroke-width="1.0"/>
<line x1="163.50" y1="317.50" x2="163.50" y2="309.00" stroke="#000" stroke-width="1.0"/>
<line x1="163.50" y1="317.50" x2="163.50" y2="322.00" stroke="#000" stroke-width="1.0"/>
<line x1="163.50" y1="477.50" x2="163.50" y2="473.00" stroke="#000" stroke-width="1.0"/>
<line x1="174.70" y1="17.40" x2="174.70" y2="21.40" stroke="#000" stroke-width="1.0"/>
<line x1="174.70" y1="317.50" x2="174.70" y2="313.50" stroke="#000" stroke-width="1.0"/>
<line x1="174.70" y1="317.50" x2="174.70" y2="319.50" stroke="#000" stroke-width="1.0"/>
<line x1="174.70" y1="477.50" x2="174.70" y2="475.50" stroke="#000" stroke-width="1.0"/>
<line x1="185.90" y1="17.40" x2="185.90" y2="21.40" stroke="#000" stroke-width="1.0"/>
<line x1="185.90" y1="317.50" x2="185.90" y2="313.50" stroke="#000" stroke-width="1.0"/>
<line x1="185.90" y1="317.50" x2="185.90" y2="319.50" stroke="#000" stroke-width="1.0"/>
<line x1="185.90" y1="477.50" x2="185.90" y2="475.50" stroke="#000" stroke-width="1.0"/>
<line x1="197.10" y1="17.40" x2="197.10" y2="21.40" stroke="#000" stroke-width="1.0"/>
<line x1="197.10" y1="317.50" x2="197.10" y2="313.50" stroke="#000" stroke-width="1.0"/>
<line x1="197.10" y1="317.50" x2="197.10" y2="319.50" stroke="#000" stroke-width="1.0"/>
<line x1="197.10" y1="477.50" x2="197.10" y2="475.50" stroke="#000" stroke-width="1.0"/>
<line x1="208.30" y1="17.40" x2="208.30" y2="21.40" stroke="#000" stroke-width="1.0"/>
<line x1="208.30" y1="317.50" x2="208.30" y2="313.50" stroke="#000" stroke-width="1.0"/>
<line x1="208.30" y1="317.50" x2="208.30" y2="319.50" stroke="#000" stroke-width="1.0"/>
<line x1="208.30" y1="477.50" x2="208.30" y2="475.50" stroke="#000" stroke-width="1.0"/>
<line x1="219.50" y1="17.40" x2="219.50" y2="21.40" stroke="#000" stroke-width="1.0"/>
<line x1="219.50" y1="317.50" x2="219.50" y2="313.50" stroke="#000" stroke-width="1.0"/>
<line x1="219.50" y1="317.50" x2="219.50" y2="319.50" stroke="#000" stroke-width="1.0"/>
<line x1="219.50" y1="477.50" x2="219.50" y2="475.50" stroke="#000" stroke-width="1.0"/>
<line x1="230.70" y1="17.40" x2="230.70" y2="21.40" stroke="#000" stroke-width="1.0"/>
<line x1="230.70" y1="317.50" x2="230.70" y2="313.50" stroke="#000" stroke-width="1.0"/>
<line x1="230.70" y1="317.50" x2="230.70" y2="319.50" stroke="#000" stroke-width="1.0"/>
<line x1="230.70" y1="477.50" x2="230.70" y2="475.50" stroke="#000" stroke-width="1.0"/>
<line x1="241.90" y1="17.40" x2="241.90" y2="21.40" stroke="#000" stroke-width="1.0"/>
<line x1="241.90" y1="317.50" x2="241.90" y2="313.50" stroke="#000" stroke-width="1.0"/>
<line x1="241.90" y1="317.50" x2="241.90" y2="319.50" stroke="#000" stroke-width="1.0"/>
<line x1="241.90" y1="477.50" x2="241.90" y2="475.50" stroke="#000" stroke-width="1.0"/>
<line x1="253.10" y1="17.40" x2="253.10" y2="21.40" stroke="#000" stroke-width="1.0"/>
<line x1="253.10" y1="317.50" x2="253.10" y2="313.50" stroke="#000" stroke-width="1.0"/>
<line x1="253.10" y1="317.50" x2="253.10" y2="319.50" stroke="#000" stroke-width="1.0"/>
<line x1="253.10" y1="477.50" x2="253.10" y2="475.50" stroke="#000" stroke-width="1.0"/>
<line x1="264.30" y1="17.40" x2="264.30" y2="21.40" stroke="#000" stroke-width="1.0"/>
<line x1="264.30" y1="317.50" x2="264.30" y2="313.50" stroke="#000" stroke-width="1.0"/>
<line x1="264.30" y1="317.50" x2="264.30" y2="319.50" stroke="#000" stroke-width="1.0"/>
<line x1="264.30" y1="477.50" x2="264.30" y2="475.50" stroke="#000" stroke-width="1.0"/>
<line x1="275.50" y1="17.40" x2="275.50" y2="25.90" stroke="#000" stroke-width="1.0"/>
<line x1="275.50" y1="317.50" x2="275.50" y2="309.00" stroke="#000" stroke-width="1.0"/>
<line x1="275.50" y1="317.50" x2="275.50" y2="322.00" stroke="#000" stroke-width="1.0"/>
<line x1="275.50" y1="477.50" x2="275.50" y2="473.00" stroke="#000" stroke-width="1.0"/>
<line x1="286.70" y1="17.40" x2="286.70" y2="21.40" stroke="#000" stroke-width="1.0"/>
<line x1="286.70" y1="317.50" x2="286.70" y2="313.50" stroke="#000" stroke-width="1.0"/>
<line x1="286.70" y1="317.50" x2="286.70" y2="319.50" stroke="#000" stroke-width="1.0"/>
<line x1="286.70" y1="477.50" x2="286.70" y2="475.50" stroke="#000" stroke-width="1.0"/>
<line x1="297.90" y1="17.40" x2="297.90" y2="21.40" stroke="#000" stroke-width="1.0"/>
<line x1="297.90" y1="317.50" x2="297.90" y2="313.50" stroke="#000" stroke-width="1.0"/>
<line x1="297.90" y1="317.50" x2="297.90" y2="319.50" stroke="#000" stroke-width="1.0"/>
<line x1="297.90" y1="477.50" x2="297.90" y2="475.50" stroke="#000" stroke-width="1.0"/>
<line x1="309.10" y1="17.40" x2="309.10" y2="21.40" stroke="#000" stroke-width="1.0"/>
<line x1="309.10" y1="317.50" x2="309.10" y2="313.50" stroke="#000" stroke-width="1.0"/>
<line x1="309.10" y1="317.50" x2="309.10" y2="319.50" stroke="#000" stroke-width="1.0"/>
<line x1="309.10" y1="477.50" x2="309.10" y2="475.50" stroke="#000" stroke-width="1.0"/>
<line x1="320.30" y1="17.40" x2="320.30" y2="21.40" stroke="#000" stroke-width="1.0"/>
<line x1="320.30" y1="317.50" x2="320.30" y2="313.50" stroke="#000" stroke-width="1.0"/>
<line x1="320.30" y1="317.50" x2="320.30" y2="319.50" stroke="#000" stroke-width="1.0"/>
<line x1="320.30" y1="477.50" x2="320.30" y2="475.50" stroke="#000" stroke-width="1.0"/>
<line x1="331.50" y1="17.40" x2="331.50" y2="21.40" stroke="#000" stroke-width="1.0"/>
<line x1="331.50" y1="317.50" x2="331.50" y2="313.50" stroke="#000" stroke-width="1.0"/>
<line x1="331.50" y1="317.50" x2="331.50" y2="319.50" stroke="#000" stroke-width="1.0"/>
<line x1="331.50" y1="477.50" x2="331.50" y2="475.50" stroke="#000" stroke-width="1.0"/>
<line x1="342.70" y1="17.40" x2="342.70" y2="21.40" stroke="#000" stroke-width="1.0"/>
<line x1="342.70" y1="317.50" x2="342.70" y2="313.50" stroke="#000" stroke-width="1.0"/>
<line x1="342.70" y1="317.50" x2="342.70" y2="319.50" stroke="#000" stroke-width="1.0"/>
<line x1="342.70" y1="477.50" x2="342.70" y2="475.50" stroke="#000" stroke-width="1.0"/>
<line x1="353.90" y1="17.40" x2="353.90" y2="21.40" stroke="#000" stroke-width="1.0"/>
<line x1="353.90" y1="317.50" x2="353.90" y2="313.50" stroke="#000" stroke-width="1.0"/>
<line x1="353.90" y1="317.50" x2="353.90" y2="319.50" stroke="#000" stroke-width="1.0"/>
<line x1="353.90" y1="477.50" x2="353.90" y2="475.50" stroke="#000" stroke-width="1.0"/>
<line x1="365.10" y1="17.40" x2="365.10" y2="21.40" stroke="#000" stroke-width="1.0"/>
<line x1="365.10" y1="317.50" x2="365.10" y2="313.50" stroke="#000" stroke-width="1.0"/>
<line x1="365.10" y1="317.50" x2="365.10" y2="319.50" stroke="#000" stroke-width="1.0"/>
<line x1="365.10" y1="477.50" x2="365.10" y2="475.50" stroke="#000" stroke-width="1.0"/>
<line x1="45.50" y1="316.79" x2="51.00" y2="316.79" stroke="#000" stroke-width="1.0"/>
<line x1="371.35" y1="316.79" x2="365.85" y2="316.79" stroke="#000" stroke-width="1.0"/>
<line x1="45.50" y1="309.45" x2="51.00" y2="309.45" stroke="#000" stroke-width="1.0"/>
<line x1="371.35" y1="309.45" x2="365.85" y2="309.45" stroke="#000" stroke-width="1.0"/>
<line x1="45.50" y1="303.46" x2="51.00" y2="303.46" stroke="#000" stroke-width="1.0"/>
<line x1="371.35" y1="303.46" x2="365.85" y2="303.46" stroke="#000" stroke-width="1.0"/>
<line x1="45.50" y1="298.38" x2="51.00" y2="298.38" stroke="#000" stroke-width="1.0"/>
<line x1="371.35" y1="298.38" x2="365.85" y2="298.38" stroke="#000" stroke-width="1.0"/>
<line x1="45.50" y1="293.99" x2="51.00" y2="293.99" stroke="#000" stroke-width="1.0"/>
<line x1="371.35" y1="293.99" x2="365.85" y2="293.99" stroke="#000" stroke-width="1.0"/>
<line x1="45.50" y1="290.12" x2="51.00" y2="290.12" stroke="#000" stroke-width="1.0"/>
<line x1="371.35" y1="290.12" x2="365.85" y2="290.12" stroke="#000" stroke-width="1.0"/>
<line x1="45.50" y1="286.65" x2="56.00" y2="286.65" stroke="#000" stroke-width="1.0"/>
<line x1="371.35" y1="286.65" x2="360.85" y2="286.65" stroke="#000" stroke-width="1.0"/>
<line x1="45.50" y1="263.85" x2="51.00" y2="263.85" stroke="#000" stroke-width="1.0"/>
<line x1="371.35" y1="263.85" x2="365.85" y2="263.85" stroke="#000" stroke-width="1.0"/>
<line x1="45.50" y1="250.51" x2="51.00" y2="250.51" stroke="#000" stroke-width="1.0"/>
<line x1="371.35" y1="250.51" x2="365.85" y2="250.51" stroke="#000" stroke-width="1.0"/>
<line x1="45.50" y1="241.04" x2="51.00" y2="241.04" stroke="#000" stroke-width="1.0"/>
<line x1="371.35" y1="241.04" x2="365.85" y2="241.04" stroke="#000" stroke-width="1.0"/>
<line x1="45.50" y1="233.70" x2="51.00" y2="233.70" stroke="#000" stroke-width="1.0"/>
<line x1="371.35" y1="233.70" x2="365.85" y2="233.70" stroke="#000" stroke-width="1.0"/>
<line x1="45.50" y1="227.71" x2="51.00" y2="227.71" stroke="#000" stroke-width="1.0"/>
<line x1="371.35" y1="227.71" x2="365.85" y2="227.71" stroke="#000" stroke-width="1.0"/>
<line x1="45.50" y1="222.63" x2="51.00" y2="222.63" stroke="#000" stroke-width="1.0"/>
<line x1="371.35" y1="222.63" x2="365.85" y2="222.63" stroke="#000" stroke-width="1.0"/>
<line x1="45.50" y1="218.24" x2="51.00" y2="218.24" stroke="#000" stroke-width="1.0"/>
<line x1="371.35" y1="218.24" x2="365.85" y2="218.24" stroke="#000" stroke-width="1.0"/>
<line x1="45.50" y1="214.37" x2="51.00" y2="214.37" stroke="#000" stroke-width="1.0"/>
<line x1="371.35" y1="214.37" x2="365.85" y2="214.37" stroke="#000" stroke-width="1.0"/>
<line x1="45.50" y1="210.90" x2="56.00" y2="210.90" stroke="#000" stroke-width="1.0"/>
<line x1="371.35" y1="210.90" x2="360.85" y2="210.90" stroke="#000" stroke-width="1.0"/>
<line x1="45.50" y1="188.10" x2="51.00" y2="188.10" stroke="#000" stroke-width="1.0"/>
<line x1="371.35" y1="188.10" x2="365.85" y2="188.10" stroke="#000" stroke-width="1.0"/>
<line x1="45.50" y1="174.76" x2="51.00" y2="174.76" stroke="#000" stroke-width="1.0"/>
<line x1="371.35" y1="174.76" x2="365.85" y2="174.76" stroke="#000" stroke-width="1.0"/>
<line x1="45.50" y1="165.29" x2="51.00" y2="165.29" stroke="#000" stroke-width="1.0"/>
<line x1="371.35" y1="165.29" x2="365.85" y2="165.29" stroke="#000" stroke-width="1.0"/>
<line x1="45.50" y1="157.95" x2="51.00" y2="157.95" stroke="#000" stroke-width="1.0"/>
<line x1="371.35" y1="157.95" x2="365.85" y2="157.95" stroke="#000" stroke-width="1.0"/>
<line x1="45.50" y1="151.96" x2="51.00" y2="151.96" stroke="#000" stroke-width="1.0"/>
<line x1="371.35" y1="151.96" x2="365.85" y2="151.96" stroke="#000" stroke-width="1.0"/>
<line x1="45.50" y1="146.88" x2="51.00" y2="146.88" stroke="#000" stroke-width="1.0"/>
<line x1="371.35" y1="146.88" x2="365.85" y2="146.88" stroke="#000" stroke-width="1.0"/>
<line x1="45.50" y1="142.49" x2="51.00" y2="142.49" stroke="#000" stroke-width="1.0"/>
<line x1="371.35" y1="142.49" x2="365.85" y2="142.49" stroke="#000" stroke-width="1.0"/>
<line x1="45.50" y1="138.62" x2="51.00" y2="138.62" stroke="#000" stroke-width="1.0"/>
<line x1="371.35" y1="138.62" x2="365.85" y2="138.62" stroke="#000" stroke-width="1.0"/>
<line x1="45.50" y1="135.15" x2="56.00" y2="135.15" stroke="#000" stroke-width="1.0"/>
<line x1="371.35" y1="135.15" x2="360.85" y2="135.15" stroke="#000" stroke-width="1.0"/>
<line x1="45.50" y1="112.35" x2="51.00" y2="112.35" stroke="#000" stroke-width="1.0"/>
<line x1="371.35" y1="112.35" x2="365.85" y2="112.35" stroke="#000" stroke-width="1.0"/>
<line x1="45.50" y1="99.01" x2="51.00" y2="99.01" stroke="#000" stroke-width="1.0"/>
<line x1="371.35" y1="99.01" x2="365.85" y2="99.01" stroke="#000" stroke-width="1.0"/>
<line x1="45.50" y1="89.54" x2="51.00" y2="89.54" stroke="#000" stroke-width="1.0"/>
<line x1="371.35" y1="89.54" x2="365.85" y2="89.54" stroke="#000" stroke-width="1.0"/>
<line x1="45.50" y1="82.20" x2="51.00" y2="82.20" stroke="#000" stroke-width="1.0"/>
<line x1="371.35" y1="82.20" x2="365.85" y2="82.20" stroke="#000" stroke-width="1.0"/>
<line x1="45.50" y1="76.21" x2="51.00" y2="76.21" stroke="#000" stroke-width="1.0"/>
<line x1="371.35" y1="76.21" x2="365.85" y2="76.21" stroke="#000" stroke-width="1.0"/>
<line x1="45.50" y1="71.13" x2="51.00" y2="71.13" stroke="#000" stroke-width="1.0"/>
<line x1="371.35" y1="71.13" x2="365.85" y2="71.13" stroke="#000" stroke-width="1.0"/>
<line x1="45.50" y1="66.74" x2="51.00" y2="66.74" stroke="#000" stroke-width="1.0"/>
<line x1="371.35" y1="66.74" x2="365.85" y2="66.74" stroke="#000" stroke-width="1.0"/>
<line x1="45.50" y1="62.87" x2="51.00" y2="62.87" stroke="#000" stroke-width="1.0"/>
<line x1="371.35" y1="62.87" x2="365.85" y2="62.87" stroke="#000" stroke-width="1.0"/>
<line x1="45.50" y1="59.40" x2="56.00" y2="59.40" stroke="#000" stroke-width="1.0"/>
<line x1="371.35" y1="59.40" x2="360.85" y2="59.40" stroke="#000" stroke-width="1.0"/>
<line x1="45.50" y1="36.60" x2="51.00" y2="36.60" stroke="#000" stroke-width="1.0"/>
<line x1="371.35" y1="36.60" x2="365.85" y2="36.60" stroke="#000" stroke-width="1.0"/>
<line x1="45.50" y1="23.26" x2="51.00" y2="23.26" stroke="#000" stroke-width="1.0"/>
<line x1="371.35" y1="23.26" x2="365.85" y2="23.26" stroke="#000" stroke-width="1.0"/>
<line x1="45.50" y1="458.71" x2="53.00" y2="458.71" stroke="#000" stroke-width="1.0"/>
<line x1="371.35" y1="458.71" x2="363.85" y2="458.71" stroke="#000" stroke-width="1.0"/>
<line x1="45.50" y1="442.71" x2="50.80" y2="442.71" stroke="#000" stroke-width="1.0"/>
<line x1="371.35" y1="442.71" x2="366.05" y2="442.71" stroke="#000" stroke-width="1.0"/>
<line x1="45.50" y1="429.19" x2="50.80" y2="429.19" stroke="#000" stroke-width="1.0"/>
<line x1="371.35" y1="429.19" x2="366.05" y2="429.19" stroke="#000" stroke-width="1.0"/>
<line x1="45.50" y1="417.48" x2="50.80" y2="417.48" stroke="#000" stroke-width="1.0"/>
<line x1="371.35" y1="417.48" x2="366.05" y2="417.48" stroke="#000" stroke-width="1.0"/>
<line x1="45.50" y1="407.14" x2="50.80" y2="407.14" stroke="#000" stroke-width="1.0"/>
<line x1="371.35" y1="407.14" x2="366.05" y2="407.14" stroke="#000" stroke-width="1.0"/>
<line x1="45.50" y1="397.90" x2="53.00" y2="397.90" stroke="#000" stroke-width="1.0"/>
<line x1="371.35" y1="397.90" x2="363.85" y2="397.90" stroke="#000" stroke-width="1.0"/>
<line x1="45.50" y1="389.54" x2="50.80" y2="389.54" stroke="#000" stroke-width="1.0"/>
<line x1="371.35" y1="389.54" x2="366.05" y2="389.54" stroke="#000" stroke-width="1.0"/>
<line x1="45.50" y1="381.91" x2="50.80" y2="381.91" stroke="#000" stroke-width="1.0"/>
<line x1="371.35" y1="381.91" x2="366.05" y2="381.91" stroke="#000" stroke-width="1.0"/>
<line x1="45.50" y1="374.88" x2="50.80" y2="374.88" stroke="#000" stroke-width="1.0"/>
<line x1="371.35" y1="374.88" x2="366.05" y2="374.88" stroke="#000" stroke-width="1.0"/>
<line x1="45.50" y1="368.38" x2="50.80" y2="368.38" stroke="#000" stroke-width="1.0"/>
<line x1="371.35" y1="368.38" x2="366.05" y2="368.38" stroke="#000" stroke-width="1.0"/>
<line x1="45.50" y1="362.33" x2="50.80" y2="362.33" stroke="#000" stroke-width="1.0"/>
<line x1="371.35" y1="362.33" x2="366.05" y2="362.33" stroke="#000" stroke-width="1.0"/>
<line x1="45.50" y1="356.67" x2="50.80" y2="356.67" stroke="#000" stroke-width="1.0"/>
<line x1="371.35" y1="356.67" x2="366.05" y2="356.67" stroke="#000" stroke-width="1.0"/>
<line x1="45.50" y1="351.35" x2="50.80" y2="351.35" stroke="#000" stroke-width="1.0"/>
<line x1="371.35" y1="351.35" x2="366.05" y2="351.35" stroke="#000" stroke-width="1.0"/>
<line x1="45.50" y1="346.33" x2="50.80" y2="346.33" stroke="#000" stroke-width="1.0"/>
<line x1="371.35" y1="346.33" x2="366.05" y2="346.33" stroke="#000" stroke-width="1.0"/>
<line x1="45.50" y1="341.59" x2="50.80" y2="341.59" stroke="#000" stroke-width="1.0"/>
<line x1="371.35" y1="341.59" x2="366.05" y2="341.59" stroke="#000" stroke-width="1.0"/>
<line x1="45.50" y1="337.09" x2="53.00" y2="337.09" stroke="#000" stroke-width="1.0"/>
<line x1="371.35" y1="337.09" x2="363.85" y2="337.09" stroke="#000" stroke-width="1.0"/>
<line x1="45.50" y1="332.81" x2="50.80" y2="332.81" stroke="#000" stroke-width="1.0"/>
<line x1="371.35" y1="332.81" x2="366.05" y2="332.81" stroke="#000" stroke-width="1.0"/>
<line x1="45.50" y1="328.73" x2="50.80" y2="328.73" stroke="#000" stroke-width="1.0"/>
<line x1="371.35" y1="328.73" x2="366.05" y2="328.73" stroke="#000" stroke-width="1.0"/>
<line x1="45.50" y1="324.83" x2="50.80" y2="324.83" stroke="#000" stroke-width="1.0"/>
<line x1="371.35" y1="324.83" x2="366.05" y2="324.83" stroke="#000" stroke-width="1.0"/>
<line x1="45.50" y1="321.10" x2="50.80" y2="321.10" stroke="#000" stroke-width="1.0"/>
<line x1="371.35" y1="321.10" x2="366.05" y2="321.10" stroke="#000" stroke-width="1.0"/>
<line x1="45.50" y1="317.52" x2="50.80" y2="317.52" stroke="#000" stroke-width="1.0"/>
<line x1="371.35" y1="317.52" x2="366.05" y2="317.52" stroke="#000" stroke-width="1.0"/>
<rect x="45.5" y="17.4" width="325.85" height="300.10" fill="none" stroke="#000" stroke-width="1.15"/>
<line x1="45.5" y1="317.5" x2="371.35" y2="317.5" stroke="#000" stroke-width="1.05"/>
<rect x="45.5" y="317.5" width="325.85" height="160.00" fill="none" stroke="#000" stroke-width="1.15"/>
<text x="51.00" y="14.00" font-size="12.2" fill="#000" >7000 GeV pp</text>
<text x="342.43" y="13.50" font-size="12.2" fill="#000" >Jets</text>
<text x="76.4" y="42.6" font-size="12">Pruned AK7 dijets, (p</text>
<path d="M840 0V1409H715C685 1300 615 1195 400 1170L215 1150V1035H650V0Z" fill="#000" transform="translate(189.10,39.30) scale(0.00410,-0.00410)"/>
<text x="189.0" y="49.0" font-size="8.4">T</text>
<text x="196.3" y="42.6" font-size="12">+ p</text>
<text x="213.5" y="39.3" font-size="8.4">2</text>
<text x="213.0" y="49.0" font-size="8.4">T</text>
<text x="219.4" y="42.6" font-size="12">)</text>
<text x="225.1" y="42.6" font-size="12">/</text>
<text x="232.7" y="42.6" font-size="12">2</text>
<text x="242.4" y="42.6" font-size="12">=</text>
<path d="M840 0V1409H715C685 1300 615 1195 400 1170L215 1150V1035H650V0Z" fill="#000" transform="translate(254.60,42.60) scale(0.00586,-0.00586)"/>
<text x="261.27" y="42.60" font-size="12" fill="#000" >000</text>
<text x="280.8" y="42.6" font-size="12">-</text>
<text x="285.4" y="42.6" font-size="12">-</text>
<path d="M840 0V1409H715C685 1300 615 1195 400 1170L215 1150V1035H650V0Z" fill="#000" transform="translate(289.70,42.60) scale(0.00586,-0.00586)"/>
<text x="296.37" y="42.60" font-size="12" fill="#000" >500 GeV</text>
<path d="M840 0V1409H715C685 1300 615 1195 400 1170L215 1150V1035H650V0Z" fill="#000" transform="translate(23.18,64.80) scale(0.00488,-0.00488)"/>
<text x="28.74" y="64.80" font-size="10" fill="#000" >0</text>
<text x="35.0" y="60.0" font-size="7.6">2</text>
<path d="M840 0V1409H715C685 1300 615 1195 400 1170L215 1150V1035H650V0Z" fill="#000" transform="translate(28.38,140.20) scale(0.00488,-0.00488)"/>
<text x="33.94" y="140.20" font-size="10" fill="#000" >0</text>
<path d="M840 0V1409H715C685 1300 615 1195 400 1170L215 1150V1035H650V0Z" fill="#000" transform="translate(33.94,214.90) scale(0.00488,-0.00488)"/>
<path d="M840 0V1409H715C685 1300 615 1195 400 1170L215 1150V1035H650V0Z" fill="#000" transform="translate(21.88,292.00) scale(0.00488,-0.00488)"/>
<text x="27.44" y="292.00" font-size="10" fill="#000" >0</text>
<text x="33.40" y="287.20" font-size="7.2" fill="#000" >−</text>
<path d="M840 0V1409H715C685 1300 615 1195 400 1170L215 1150V1035H650V0Z" fill="#000" transform="translate(37.60,287.20) scale(0.00352,-0.00352)"/>
<text x="31.73" y="340.69" font-size="12" fill="#000" >2</text>
<text x="373.60" y="340.69" font-size="12" fill="#000" >2</text>
<path d="M840 0V1409H715C685 1300 615 1195 400 1170L215 1150V1035H650V0Z" fill="#000" transform="translate(31.73,401.50) scale(0.00586,-0.00586)"/>
<path d="M840 0V1409H715C685 1300 615 1195 400 1170L215 1150V1035H650V0Z" fill="#000" transform="translate(373.60,401.50) scale(0.00586,-0.00586)"/>
<text x="21.72" y="462.31" font-size="12" fill="#000" >0.5</text>
<text x="373.60" y="462.31" font-size="12" fill="#000" >0.5</text>
<text x="47.77" y="489.10" font-size="11.6" fill="#000" >0</text>
<path d="M840 0V1409H715C685 1300 615 1195 400 1170L215 1150V1035H650V0Z" fill="#000" transform="translate(154.12,489.10) scale(0.00566,-0.00566)"/>
<text x="160.57" y="489.10" font-size="11.6" fill="#000" >00</text>
<text x="266.12" y="489.10" font-size="11.6" fill="#000" >200</text>
<text x="250.89" y="503.80" font-size="12.5" fill="#000" >(m_</text>
<path d="M840 0V1409H715C685 1300 615 1195 400 1170L215 1150V1035H650V0Z" fill="#000" transform="translate(272.42,503.80) scale(0.00610,-0.00610)"/>
<text x="282.85" y="503.80" font-size="12.5" fill="#000" >+ m_2) / 2 [GeV]</text>
<g transform="translate(16.30,207.60) rotate(-90)">
<path d="M840 0V1409H715C685 1300 615 1195 400 1170L215 1150V1035H650V0Z" fill="#000" transform="translate(0.00,0.00) scale(0.00586,-0.00586)"/>
<text x="6.67" y="0.00" font-size="12" fill="#000" >000/σ</text>
</g>
<text transform="translate(16.3,161.2) rotate(-90)" font-size="12">2d<tspan dx="-2.5">σ</tspan>)/d(m_</text>
<g transform="translate(16.30,108.28) rotate(-90)">
<path d="M840 0V1409H715C685 1300 615 1195 400 1170L215 1150V1035H650V0Z" fill="#000" transform="translate(0.00,0.00) scale(0.00586,-0.00586)"/>
<text x="10.01" y="0.00" font-size="12" fill="#000" >+ m_2) [</text>
</g>
<g transform="translate(16.30,53.92) rotate(-90)">
<path d="M840 0V1409H715C685 1300 615 1195 400 1170L215 1150V1035H650V0Z" fill="#000" transform="translate(0.00,0.00) scale(0.00586,-0.00586)"/>
<text x="6.67" y="0.00" font-size="12" fill="#000" >/GeV]</text>
</g>
<text transform="translate(18.0,397.1) rotate(-90)" font-size="8.8" text-anchor="middle">Ratio to CMS</text>
<g transform="translate(379.90,17.60) rotate(-90)">
<text x="-111.69" y="0.00" font-size="9.62" fill="#888" >Rivet 4.</text>
<path d="M840 0V1409H715C685 1300 615 1195 400 1170L215 1150V1035H650V0Z" fill="#888" transform="translate(-79.07,0.00) scale(0.00470,-0.00470)"/>
<text x="-73.72" y="0.00" font-size="9.62" fill="#888" >.0, ≥ 3.2M events</text>
</g>
<g transform="translate(379.90,313.40) rotate(-90)">
<text x="0.00" y="0.00" font-size="9.42" fill="#888" >mcplots.cern.ch [arXiv:240</text>
<path d="M840 0V1409H715C685 1300 615 1195 400 1170L215 1150V1035H650V0Z" fill="#888" transform="translate(110.99,0.00) scale(0.00460,-0.00460)"/>
<text x="116.23" y="0.00" font-size="9.42" fill="#888" >.</text>
<path d="M840 0V1409H715C685 1300 615 1195 400 1170L215 1150V1035H650V0Z" fill="#888" transform="translate(118.85,0.00) scale(0.00460,-0.00460)"/>
<text x="124.09" y="0.00" font-size="9.42" fill="#888" >062</text>
<path d="M840 0V1409H715C685 1300 615 1195 400 1170L215 1150V1035H650V0Z" fill="#888" transform="translate(139.81,0.00) scale(0.00460,-0.00460)"/>
<text x="145.04" y="0.00" font-size="9.42" fill="#888" >]</text>
</g>
<text x="167.60" y="302.30" font-size="7.8" fill="#999" >(CMS_20</text>
<path d="M840 0V1409H715C685 1300 615 1195 400 1170L215 1150V1035H650V0Z" fill="#999" transform="translate(200.54,302.30) scale(0.00381,-0.00381)"/>
<text x="204.88" y="302.30" font-size="7.8" fill="#999" >3_I</text>
<path d="M840 0V1409H715C685 1300 615 1195 400 1170L215 1150V1035H650V0Z" fill="#999" transform="translate(215.73,302.30) scale(0.00381,-0.00381)"/>
<text x="220.06" y="302.30" font-size="7.8" fill="#999" >224539)</text>
<rect x="73.40" y="207.90" width="6.2" height="6.2" fill="#000"/>
<line x1="64.2" y1="223.90" x2="88.5" y2="223.90" stroke="#b5651d" stroke-width="1.2" stroke-dasharray="2.5,1.6"/>
<circle cx="76.50" cy="223.90" r="2.6" fill="none" stroke="#b5651d" stroke-width="1.0"/>
<line x1="64.2" y1="236.80" x2="88.5" y2="236.80" stroke="#4ca02c" stroke-width="1.2" stroke-dasharray="2.5,1.6"/>
<rect x="73.60" y="233.90" width="5.8" height="5.8" fill="none" stroke="#4ca02c" stroke-width="1.2"/>
<line x1="64.2" y1="249.80" x2="88.5" y2="249.80" stroke="#0000e6" stroke-width="1.5" />
<path d="M76.50,246.50 L79.50,252.40 L73.50,252.40Z" fill="#0000e6"/>
<line x1="64.2" y1="262.70" x2="88.5" y2="262.70" stroke="#1a9cc2" stroke-width="1.2" stroke-dasharray="3,1.5,1,1.5"/>
<path d="M76.50,266.00 L79.50,260.10 L73.50,260.10Z" fill="#1a9cc2"/>
<line x1="64.2" y1="275.60" x2="88.5" y2="275.60" stroke="#ff0000" stroke-width="1.2" stroke-dasharray="1,1"/>
<path d="M76.50,272.30 L78.90,275.60 L76.50,278.90 L74.10,275.60Z" fill="#ff0000"/>
<text x="93.80" y="214.30" font-size="9.4" fill="#000" >CMS</text>
<text x="93.80" y="227.20" font-size="9.4" fill="#000" >Herwig++ 2.7.</text>
<path d="M840 0V1409H715C685 1300 615 1195 400 1170L215 1150V1035H650V0Z" fill="#000" transform="translate(152.32,227.20) scale(0.00459,-0.00459)"/>
<text x="160.16" y="227.20" font-size="9.4" fill="#000" >default</text>
<text x="93.80" y="240.10" font-size="9.4" fill="#000" >Herwig 7.2.</text>
<path d="M840 0V1409H715C685 1300 615 1195 400 1170L215 1150V1035H650V0Z" fill="#000" transform="translate(141.34,240.10) scale(0.00459,-0.00459)"/>
<text x="149.18" y="240.10" font-size="9.4" fill="#000" >default</text>
<text x="93.80" y="253.10" font-size="9.4" fill="#000" >Pythia 8.3</text>
<path d="M840 0V1409H715C685 1300 615 1195 400 1170L215 1150V1035H650V0Z" fill="#000" transform="translate(135.60,253.10) scale(0.00459,-0.00459)"/>
<text x="140.83" y="253.10" font-size="9.4" fill="#000" >5 default</text>
<text x="93.80" y="266.00" font-size="9.4" fill="#000" >Pythia 8.3</text>
<path d="M840 0V1409H715C685 1300 615 1195 400 1170L215 1150V1035H650V0Z" fill="#000" transform="translate(135.60,266.00) scale(0.00459,-0.00459)"/>
<text x="140.83" y="266.00" font-size="9.4" fill="#000" >5 vincia-default</text>
<text x="93.80" y="278.90" font-size="9.4" fill="#000" >Sherpa 2.2.9 default</text>
</svg></body></html>
